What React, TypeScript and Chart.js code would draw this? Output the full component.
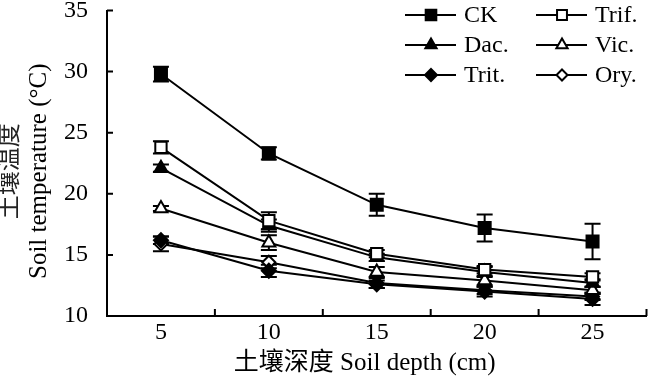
import React, { useEffect, useRef } from 'react';
import { Chart, registerables } from 'chart.js';

Chart.register(...registerables);

// ---- data ----
const depthLabels = ['5', '10', '15', '20', '25'];
const yTicks = [10, 15, 20, 25, 30, 35];

const ckValues = [29.8, 23.3, 19.1, 17.2, 16.1];
const ckErrors = [0.6, 0.5, 0.9, 1.1, 1.45];
const trifValues = [23.8, 17.8, 15.1, 13.8, 13.2];
const trifErrors = [0.5, 0.7, 0.3, 0.3, 0.3];
const dacValues = [22.1, 17.4, 14.8, 13.6, 12.7];
const dacErrors = [0.3, 0.5, 0.3, 0.4, 0.3];
const vicValues = [18.8, 16.0, 13.6, 12.9, 12.1];
const vicErrors = [0.2, 0.6, 0.4, 0.4, 0.3];
const tritValues = [16.2, 13.7, 12.6, 12.0, 11.4];
const tritErrors = [0.3, 0.5, 0.3, 0.4, 0.5];
const oryValues = [15.9, 14.4, 12.7, 12.1, 11.6];
const oryErrors = [0.6, 0.5, 0.4, 0.3, 0.3];

const seriesNames = ['CK', 'Trif.', 'Dac.', 'Vic.', 'Trit.', 'Ory.'];

const yTitleCn = '土壤温度';
const yTitleEn = 'Soil temperature (°C)';
const xTitle = '土壤深度 Soil depth (cm)';

const FONT = "'Liberation Serif', 'Times New Roman', 'Noto Sans CJK SC', serif";

type Marker = { style: 'rect' | 'triangle' | 'rectRot'; filled: boolean; radius: number };
const markers: Marker[] = [
  { style: 'rect', filled: true, radius: 8.5 },
  { style: 'rect', filled: false, radius: 8 },
  { style: 'triangle', filled: true, radius: 7.5 },
  { style: 'triangle', filled: false, radius: 7.5 },
  { style: 'rectRot', filled: true, radius: 7 },
  { style: 'rectRot', filled: false, radius: 6.5 },
];

function drawMarker(ctx: CanvasRenderingContext2D, m: Marker, x: number, y: number, r: number) {
  ctx.save();
  ctx.beginPath();
  if (m.style === 'rect') {
    const s = Math.SQRT1_2 * r;
    ctx.rect(x - s, y - s, 2 * s, 2 * s);
  } else if (m.style === 'triangle') {
    const side = (3 * r) / Math.sqrt(3);
    const h = (side * Math.sqrt(3)) / 2;
    ctx.moveTo(x, y - (2 * h) / 3);
    ctx.lineTo(x + side / 2, y + h / 3);
    ctx.lineTo(x - side / 2, y + h / 3);
    ctx.closePath();
  } else {
    ctx.moveTo(x, y - r);
    ctx.lineTo(x + r, y);
    ctx.lineTo(x, y + r);
    ctx.lineTo(x - r, y);
    ctx.closePath();
  }
  ctx.fillStyle = m.filled ? '#000' : '#fff';
  ctx.fill();
  ctx.lineWidth = 2;
  ctx.strokeStyle = '#000';
  ctx.stroke();
  ctx.restore();
}

const errorBarPlugin = {
  id: 'errorBars',
  beforeDatasetsDraw(chart: any) {
    const ctx = chart.ctx as CanvasRenderingContext2D;
    const xs = chart.scales.x;
    const ys = chart.scales.y;
    ctx.save();
    ctx.strokeStyle = '#000';
    ctx.lineWidth = 2;
    chart.data.datasets.forEach((ds: any) => {
      const errs: number[] = ds.errors || [];
      ds.data.forEach((v: number, i: number) => {
        const e = errs[i];
        if (e == null) return;
        const x = xs.getPixelForValue(i);
        const yTop = ys.getPixelForValue(v + e);
        const yBot = ys.getPixelForValue(v - e);
        const cap = 8;
        ctx.beginPath();
        ctx.moveTo(x, yTop);
        ctx.lineTo(x, yBot);
        ctx.moveTo(x - cap, yTop);
        ctx.lineTo(x + cap, yTop);
        ctx.moveTo(x - cap, yBot);
        ctx.lineTo(x + cap, yBot);
        ctx.stroke();
      });
    });
    ctx.restore();
  },
};

const decorPlugin = {
  id: 'decor',
  afterDraw(chart: any) {
    const ctx = chart.ctx as CanvasRenderingContext2D;
    const { left, right, top, bottom } = chart.chartArea;
    const xs = chart.scales.x;
    const ys = chart.scales.y;
    ctx.save();
    ctx.strokeStyle = '#000';
    ctx.lineWidth = 2;
    // inward tick marks
    ctx.beginPath();
    yTicks.forEach((t) => {
      const y = ys.getPixelForValue(t);
      ctx.moveTo(left, y);
      ctx.lineTo(left + 6, y);
    });
    const n = depthLabels.length;
    for (let i = 0; i <= n; i++) {
      const x = xs.getPixelForValue(i - 0.5);
      ctx.moveTo(x, bottom);
      ctx.lineTo(x, bottom - 7);
    }
    ctx.stroke();

    // axis titles
    ctx.fillStyle = '#000';
    ctx.textAlign = 'center';
    ctx.textBaseline = 'middle';
    const yc = (top + bottom) / 2 + 8;
    ctx.save();
    ctx.translate(11, yc);
    ctx.rotate(-Math.PI / 2);
    ctx.font = `24px ${FONT}`;
    ctx.fillStyle = '#222';
    ctx.fillText(yTitleCn, 0, 0);
    ctx.restore();
    ctx.save();
    ctx.translate(39, yc);
    ctx.rotate(-Math.PI / 2);
    ctx.font = `25px ${FONT}`;
    ctx.fillText(yTitleEn, 0, 0);
    ctx.restore();

    ctx.font = `25px ${FONT}`;
    ctx.fillText(xTitle, (left + right) / 2 - 12, bottom + 47);

    // legend
    const colX = [405, 536];
    const rowY = [15, 45, 75];
    ctx.font = `24px ${FONT}`;
    ctx.textAlign = 'left';
    seriesNames.forEach((name, i) => {
      const cx = colX[i % 2];
      const cy = rowY[Math.floor(i / 2)];
      ctx.beginPath();
      ctx.lineWidth = 2;
      ctx.moveTo(cx, cy);
      ctx.lineTo(cx + 51, cy);
      ctx.stroke();
      drawMarker(ctx, markers[i], cx + 26, cy, markers[i].radius - 1);
      ctx.fillStyle = '#000';
      ctx.fillText(name, cx + 59, cy + 1);
    });
    ctx.restore();
  },
};

export default function App() {
  const ref = useRef<HTMLCanvasElement | null>(null);

  useEffect(() => {
    if (!ref.current) return;
    const values = [ckValues, trifValues, dacValues, vicValues, tritValues, oryValues];
    const errors = [ckErrors, trifErrors, dacErrors, vicErrors, tritErrors, oryErrors];
    const chart = new Chart(ref.current, {
      type: 'line',
      data: {
        labels: depthLabels,
        datasets: seriesNames.map((name, i) => ({
          label: name,
          data: values[i],
          errors: errors[i],
          borderColor: '#000',
          borderWidth: 2,
          backgroundColor: markers[i].filled ? '#000' : '#fff',
          pointStyle: markers[i].style,
          pointRadius: markers[i].radius,
          pointBorderWidth: 2,
          pointBorderColor: '#000',
          pointBackgroundColor: markers[i].filled ? '#000' : '#fff',
          tension: 0,
          fill: false,
          clip: false,
        })) as any,
      },
      options: {
        animation: false,
        responsive: false,
        maintainAspectRatio: false,
        layout: { padding: { top: 8, right: 1, left: 0, bottom: 0 } },
        plugins: { legend: { display: false }, tooltip: { enabled: false } },
        scales: {
          x: {
            type: 'category',
            offset: true,
            grid: { display: false, drawTicks: false },
            border: { display: true, color: '#000', width: 2 },
            ticks: { color: '#000', font: { family: FONT, size: 24 }, padding: 2, maxRotation: 0 },
            afterFit(scale: any) {
              scale.height = 70;
              scale.paddingLeft = 0;
              scale.paddingRight = 0;
            },
          },
          y: {
            min: 10,
            max: 35,
            grid: { display: false, drawTicks: false },
            border: { display: true, color: '#000', width: 2 },
            ticks: { stepSize: 5, color: '#000', font: { family: FONT, size: 24 }, padding: 19 },
            afterFit(scale: any) {
              scale.width = 107;
              scale.paddingTop = 0;
              scale.paddingBottom = 0;
            },
          },
        },
      } as any,
      plugins: [errorBarPlugin, decorPlugin],
    });
    return () => chart.destroy();
  }, []);

  return (
    <div style={{ position: 'fixed', left: 0, top: 0, width: 657, height: 386, background: '#fff' }}>
      <canvas ref={ref} width={657} height={386} style={{ display: 'block', width: 657, height: 386 }} />
    </div>
  );
}
